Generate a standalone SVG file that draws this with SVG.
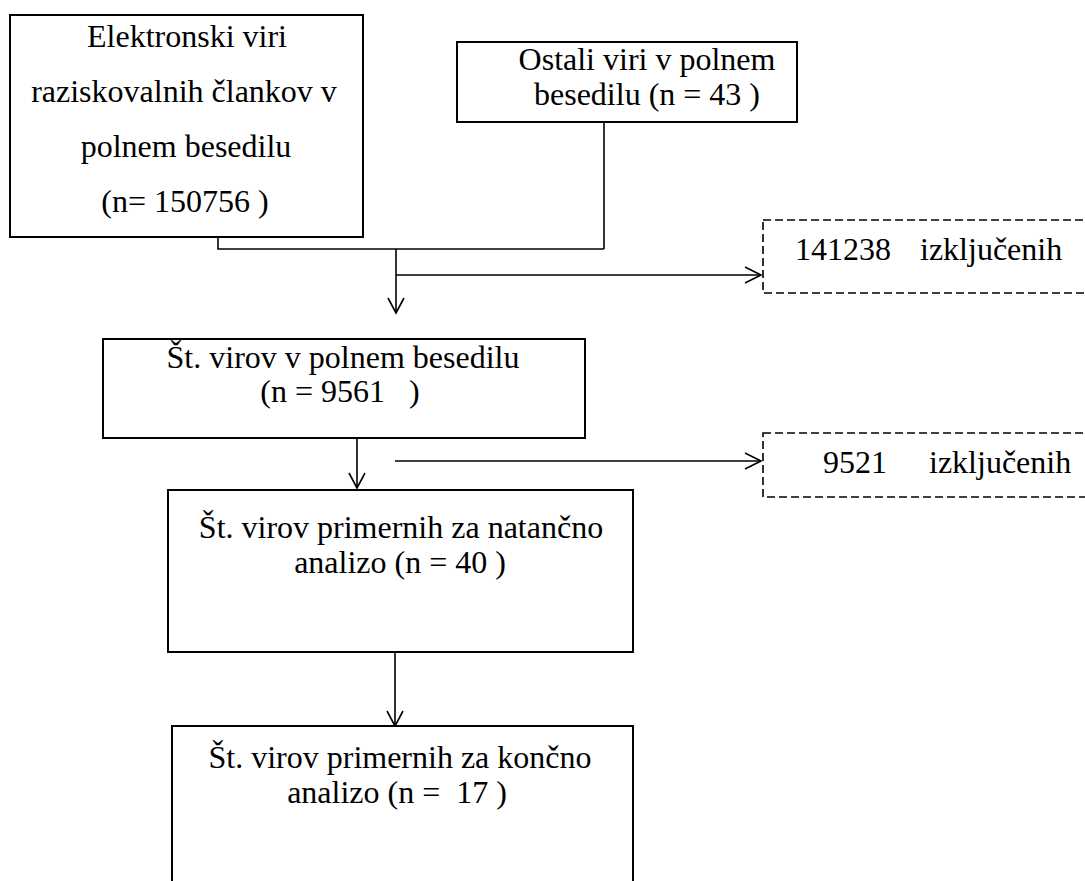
<svg xmlns="http://www.w3.org/2000/svg" width="1085" height="881" viewBox="0 0 1085 881">
<style>
.box{fill:#fff;stroke:#000;stroke-width:2}
.dash{fill:#fff;stroke:#000;stroke-width:1.6;stroke-dasharray:8 4}
.t{font-family:"Liberation Serif","Times New Roman",serif;font-size:32px;fill:#000;white-space:pre}
.c{text-anchor:middle}
.ln{fill:none;stroke:#000;stroke-width:1.6}
</style>
<rect width="1085" height="881" fill="#fff"/>
<g id="connectors">
<polyline class="ln" points="218,222 218,249 604,249"/>
<line class="ln" x1="604" y1="122" x2="604" y2="249"/>
<line class="ln" x1="396" y1="249" x2="396" y2="313"/>
<polyline class="ln" points="388,298 396,313 404,298"/>
<line class="ln" x1="396" y1="275" x2="761" y2="275"/>
<polyline class="ln" points="745,267 761,275 745,283"/>
<line class="ln" x1="357" y1="438" x2="357" y2="488"/>
<polyline class="ln" points="349,473 357,488 365,473"/>
<line class="ln" x1="395" y1="461" x2="761" y2="461"/>
<polyline class="ln" points="745,453 761,461 745,469"/>
<line class="ln" x1="395" y1="652" x2="395" y2="726"/>
<polyline class="ln" points="387,711 395,726 403,711"/>
</g>
<g id="n1">
<rect class="box" x="10" y="15" width="353" height="222"/>
<text class="t c" x="187" y="47">Elektronski viri</text>
<text class="t c" x="184" y="102">raziskovalnih člankov v</text>
<text class="t c" x="186" y="157">polnem besedilu</text>
<text class="t c" x="185" y="212">(n= 150756 )</text>
</g>
<g id="n2">
<rect class="box" x="457" y="42" width="340" height="80"/>
<text class="t c" x="647" y="70">Ostali viri v polnem</text>
<text class="t c" x="647" y="105">besedilu (n = 43 )</text>
</g>
<g id="x1">
<rect class="dash" x="763" y="220" width="340" height="73"/>
<text class="t" x="795" y="260">141238</text>
<text class="t" x="920" y="260">izključenih</text>
</g>
<g id="n3">
<rect class="box" x="103" y="339" width="482" height="99"/>
<text class="t c" x="343" y="368">Št. virov v polnem besedilu</text>
<text class="t c" x="340" y="402">(n = 9561   )</text>
</g>
<g id="x2">
<rect class="dash" x="763" y="433" width="340" height="64"/>
<text class="t" x="823" y="473">9521</text>
<text class="t" x="929" y="473">izključenih</text>
</g>
<g id="n4">
<rect class="box" x="168" y="490" width="465" height="162"/>
<text class="t c" x="401" y="538">Št. virov primernih za natančno</text>
<text class="t c" x="400" y="573">analizo (n = 40 )</text>
</g>
<g id="n5">
<rect class="box" x="172" y="726" width="461" height="170"/>
<text class="t c" x="400" y="768">Št. virov primernih za končno</text>
<text class="t c" x="397" y="803">analizo (n =  17 )</text>
</g>
</svg>
